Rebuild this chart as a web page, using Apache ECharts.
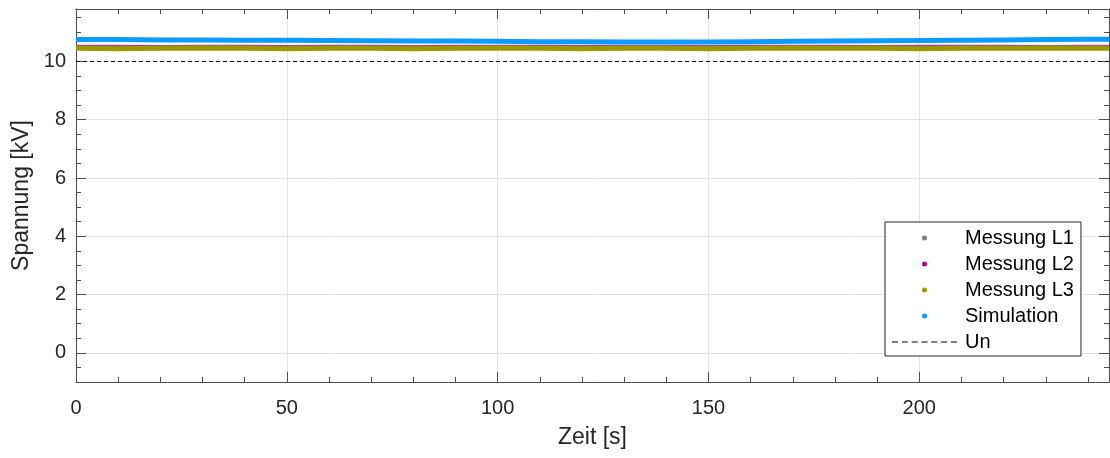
<!DOCTYPE html>
<html>
<head>
<meta charset="utf-8">
<script src="https://cdn.jsdelivr.net/npm/echarts@6/dist/echarts.min.js"></script>
<style>
html,body{margin:0;padding:0;background:#fff;}
#chart{width:1110px;height:458px;}
</style>
</head>
<body>
<div id="chart"></div>
<script>
// Time stamps [s]
const time = [0,10,20,30,40,50,60,70,80,90,100,110,120,130,140,150,160,170,180,190,200,210,220,230,240,245];
// Measured voltages [kV]
const messungL1 = [10.49,10.48,10.49,10.49,10.48,10.49,10.48,10.49,10.48,10.48,10.49,10.48,10.48,10.49,10.48,10.48,10.49,10.48,10.49,10.48,10.49,10.49,10.48,10.49,10.49,10.49];
const messungL2 = [10.54,10.54,10.53,10.54,10.54,10.53,10.54,10.54,10.53,10.54,10.54,10.54,10.53,10.54,10.54,10.53,10.54,10.54,10.54,10.53,10.54,10.54,10.54,10.53,10.54,10.54];
const messungL3 = [10.45,10.44,10.45,10.46,10.45,10.44,10.45,10.45,10.44,10.45,10.46,10.45,10.44,10.45,10.45,10.44,10.45,10.46,10.45,10.45,10.44,10.45,10.45,10.46,10.45,10.45];
// Simulated voltage [kV]
const simulation = [10.75,10.75,10.74,10.74,10.73,10.73,10.72,10.71,10.70,10.70,10.69,10.68,10.68,10.67,10.67,10.67,10.68,10.69,10.70,10.71,10.72,10.73,10.74,10.75,10.76,10.76];
// Nominal voltage
const unTime = [0,245];
const unValue = [10,10];
// Axis ticks
const yMajorTicks = [0,2,4,6,8,10];
const xRange = [0,245];
const yRange = [-1,11.8];

const font = '"Liberation Sans", Arial, sans-serif';
const txt = '#262626';
const axisCol = '#4d4d4d';
const pair = (xs, ys) => xs.map((x, i) => [x, ys[i]]);

// dashed legend icon for Un
let dashPath = 'path://';
for (let k = 0; k < 7; k++) { dashPath += 'M' + (k * 9.8) + ',0h6v1h-6z'; }

function xAx(pos, interval, len, main) {
  return {
    type: 'value', position: pos, min: xRange[0], max: xRange[1], interval: interval,
    axisLine: {show: main, onZero: false, lineStyle: {color: axisCol, width: 1}},
    axisTick: {show: true, inside: true, length: len, lineStyle: {color: axisCol}},
    axisLabel: {show: main && pos === 'bottom', showMaxLabel: false, fontFamily: font, fontSize: 20, color: txt, margin: 16},
    splitLine: {show: main && pos === 'bottom', lineStyle: {color: '#e3e3e3', width: 1}},
    name: (main && pos === 'bottom') ? 'Zeit [s]' : '',
    nameLocation: 'middle', nameGap: 44,
    nameTextStyle: {fontFamily: font, fontSize: 23, color: txt}
  };
}
function yAxMain(pos) {
  const left = pos === 'left';
  return {
    type: 'value', position: pos, min: yRange[0], max: yRange[1],
    axisLine: {show: true, onZero: false, lineStyle: {color: axisCol, width: 1}},
    axisTick: {show: true, inside: true, length: 10, customValues: yMajorTicks, lineStyle: {color: axisCol}},
    axisLabel: {show: left, customValues: yMajorTicks, fontFamily: font, fontSize: 20, color: txt, margin: 10},
    splitLine: {show: left, lineStyle: {color: '#e3e3e3', width: 1}},
    name: left ? 'Spannung [kV]' : '',
    nameLocation: 'middle', nameGap: 36,
    nameTextStyle: {fontFamily: font, fontSize: 23, color: txt}
  };
}
function yAxMinor(pos) {
  return {
    type: 'value', position: pos, min: yRange[0], max: yRange[1], interval: 0.5,
    axisLine: {show: false, onZero: false},
    axisTick: {show: true, inside: true, length: 5, lineStyle: {color: axisCol}},
    axisLabel: {show: false},
    splitLine: {show: false}
  };
}

const chart = echarts.init(document.getElementById('chart'), null, {renderer: 'canvas'});
chart.setOption({
  animation: false,
  backgroundColor: '#ffffff',
  grid: {left: 76, right: 1, top: 9, bottom: 76, containLabel: false, outerBoundsMode: 'none'},
  xAxis: [xAx('bottom', 50, 10, true), xAx('bottom', 10, 5, false), xAx('top', 50, 10, true), xAx('top', 10, 5, false)],
  yAxis: [yAxMain('left'), yAxMinor('left'), yAxMain('right'), yAxMinor('right')],
  legend: {
    orient: 'vertical', left: 885, top: 222, align: 'left',
    padding: [6, 7, 4, 7], itemGap: 6, itemWidth: 65, itemHeight: 5,
    backgroundColor: '#ffffff', borderColor: '#262626', borderWidth: 1,
    textStyle: {fontFamily: font, fontSize: 20, color: '#000', lineHeight: 20, padding: [0, 0, 0, 3]},
    data: [
      {name: 'Messung L1', icon: 'circle'},
      {name: 'Messung L2', icon: 'circle'},
      {name: 'Messung L3', icon: 'circle'},
      {name: 'Simulation', icon: 'circle'},
      {name: 'Un', icon: dashPath}
    ]
  },
  series: [
    {name: 'Messung L1', type: 'line', data: pair(time, messungL1), symbol: 'none', color: '#808080', lineStyle: {width: 4, color: '#808080'}},
    {name: 'Messung L2', type: 'line', data: pair(time, messungL2), symbol: 'none', color: '#b000b0', lineStyle: {width: 2, color: '#a8409c'}},
    {name: 'Messung L3', type: 'line', data: pair(time, messungL3), symbol: 'none', color: '#9c9a00', lineStyle: {width: 5, color: '#9c9a00'}},
    {name: 'Simulation', type: 'line', data: pair(time, simulation), symbol: 'none', color: '#0a9cff', lineStyle: {width: 5, color: '#0a9cff'}},
    {name: 'Un', type: 'line', data: pair(unTime, unValue), symbol: 'none', color: '#000000', lineStyle: {width: 1, type: [4, 3], color: '#000000'}}
  ]
});
</script>
</body>
</html>
